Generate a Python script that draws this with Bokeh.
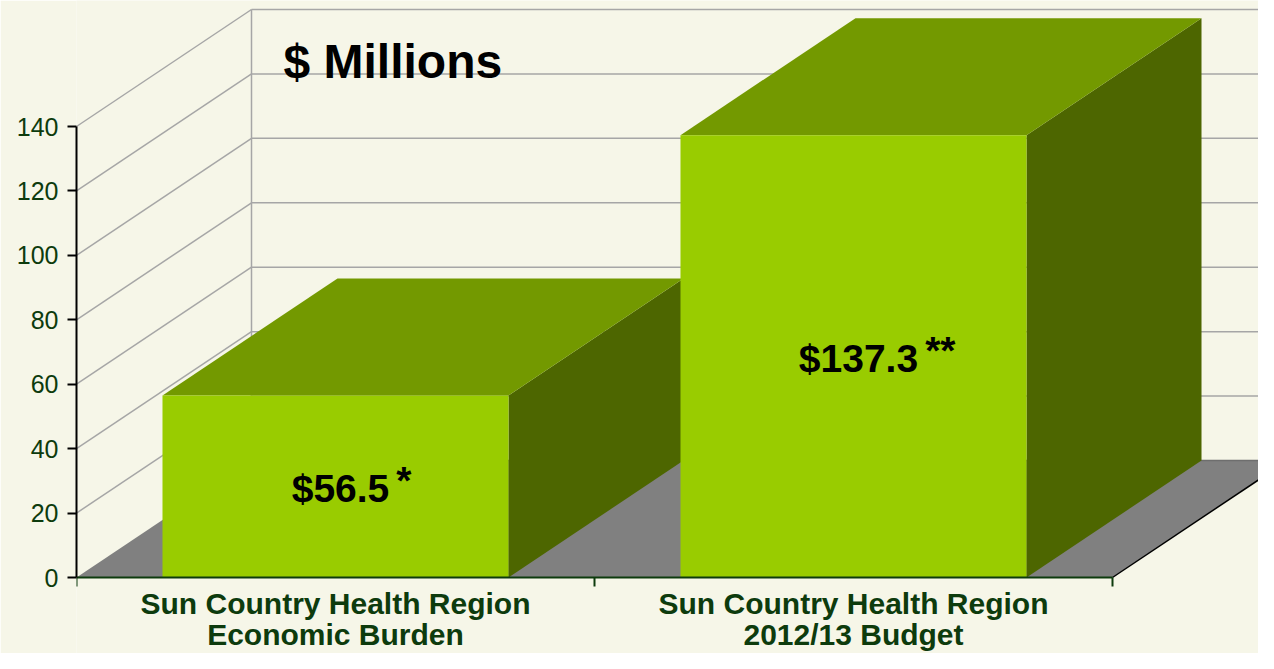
from bokeh.plotting import figure
from bokeh.models import Range1d, FixedTicker
from bokeh.core.properties import value
from bokeh.embed import file_html
from bokeh.resources import INLINE

# ---- data ----
categories = ["Sun Country Health Region\nEconomic Burden",
              "Sun Country Health Region\n2012/13 Budget"]
values = [56.5, 137.3]
value_labels = ["$56.5", "$137.3"]
footnote_marks = ["*", "**"]
y_ticks = [0, 20, 40, 60, 80, 100, 120, 140]
title_text = "$ Millions"

# ---- geometry / style ----
W, H = 1258, 653
BL = 76                      # left border (axis area)
ZERO_PX = 577                # pixel row of value 0
TOP_PX = 126                 # pixel row of value 140
PX_X = 518.0                 # px per category
PX_Y = (ZERO_PX - TOP_PX) / 140.0   # px per value unit
DX = 175.0 / PX_X            # depth offset (category units)
DY = 117.0 / PX_Y            # depth offset (value units)
BAR_W = 0.668
XMAX = (W - BL) / PX_X
YMIN = -(H - ZERO_PX) / PX_Y
YMAX = ZERO_PX / PX_Y

BG = "#F6F6E8"
FRONT, TOP, SIDE = "#99CC00", "#739900", "#4D6600"
GRID = "#A6A6A6"
DKGREEN = "#0D3B0D"
FONT = "Liberation Sans"

p = figure(width=W, height=H, output_backend="svg", toolbar_location=None,
           x_range=Range1d(0, XMAX), y_range=Range1d(YMIN, YMAX),
           min_border_left=BL, min_border_bottom=0, min_border_top=0, min_border_right=0,
           background_fill_color=BG, border_fill_color=BG)
p.outline_line_color = None
p.grid.visible = False

# y axis
ya = p.yaxis[0]
ya.ticker = FixedTicker(ticks=y_ticks, minor_ticks=[])
ya.bounds = (0, max(y_ticks))
ya.axis_line_color = "black"
ya.axis_line_width = 2
ya.major_tick_line_color = "black"
ya.major_tick_line_width = 2
ya.major_tick_out = 9
ya.major_tick_in = 0
ya.minor_tick_line_color = None
ya.major_label_standoff = 9
ya.major_label_text_font = FONT
ya.major_label_text_font_size = "25px"
ya.major_label_text_color = DKGREEN

# ---- walls (gridlines) ----
gt = y_ticks[1:]
p.segment(x0=[0] * len(gt), y0=gt, x1=[DX] * len(gt), y1=[t + DY for t in gt],
          line_color=GRID, line_width=1.5)
p.segment(x0=[DX] * len(gt), y0=[t + DY for t in gt], x1=[XMAX + 1] * len(gt),
          y1=[t + DY for t in gt], line_color=GRID, line_width=1.5)
p.segment(x0=[DX], y0=[DY], x1=[DX], y1=[max(y_ticks) + DY], line_color=GRID, line_width=1.5)

# ---- floor ----
n = len(categories)
p.patch([0, n, n + DX, DX], [0, 0, DY, DY], fill_color="#808080", line_color=None)
p.line([DX, n + DX], [DY, DY], line_color="#6E6E6E", line_width=1.5)
p.line([n, n + DX], [0, DY], line_color="black", line_width=1.5)

# ---- bars ----
centers = [i + 0.5 for i in range(n)]
for c, v in zip(centers, values):
    x0, x1 = c - BAR_W / 2, c + BAR_W / 2
    p.patch([x1, x1 + DX, x1 + DX, x1], [0, DY, v + DY, v], fill_color=SIDE, line_color=None)
    p.patch([x0, x1, x1 + DX, x0 + DX], [v, v, v + DY, v + DY], fill_color=TOP, line_color=None)
    p.quad(left=[x0], right=[x1], bottom=[0], top=[v], fill_color=FRONT, line_color=None)

# x axis, drawn at value 0 (front edge of the floor)
xa = p.xaxis[0]
xa.fixed_location = 0
xa.ticker = FixedTicker(ticks=centers, minor_ticks=list(range(n + 1)))
xa.bounds = (0, n)
xa.major_label_overrides = {c: lab for c, lab in zip(centers, categories)}
xa.axis_line_color = DKGREEN
xa.axis_line_width = 2
xa.major_tick_line_color = None
xa.major_tick_out = 0
xa.major_tick_in = 0
xa.minor_tick_line_color = DKGREEN
xa.minor_tick_line_width = 2
xa.minor_tick_out = 9
xa.minor_tick_in = 0
xa.major_label_standoff = 0
xa.major_label_text_font = FONT
xa.major_label_text_font_style = "bold"
xa.major_label_text_font_size = "30px"
xa.major_label_text_color = DKGREEN
xa.major_label_text_line_height = 0.95

# ---- value labels ----
VFS = 39
cw = {"$": 0.556, ".": 0.278}
for c, v, lab, mark in zip(centers, values, value_labels, footnote_marks):
    w = sum(cw.get(ch, 0.556) for ch in lab) * VFS
    p.text(x=[c], y=[v / 2], text=[lab], x_offset=5, y_offset=2,
           text_align="center", text_baseline="middle",
           text_font=value(FONT), text_font_style="bold",
           text_font_size=f"{VFS}px", text_color="black")
    p.text(x=[c], y=[v / 2], text=[mark], x_offset=5 + w / 2 + 7, y_offset=-6,
           text_align="left", text_baseline="middle",
           text_font=value(FONT), text_font_style="bold",
           text_font_size=f"{VFS}px", text_color="black")

# ---- title ----
p.text(x=[(283 - BL) / PX_X], y=[(ZERO_PX - 61) / PX_Y], text=[title_text],
       text_align="left", text_baseline="middle",
       text_font=value(FONT), text_font_style="bold",
       text_font_size="48px", text_color="black")

open("out.html", "w").write(file_html(p, INLINE))
